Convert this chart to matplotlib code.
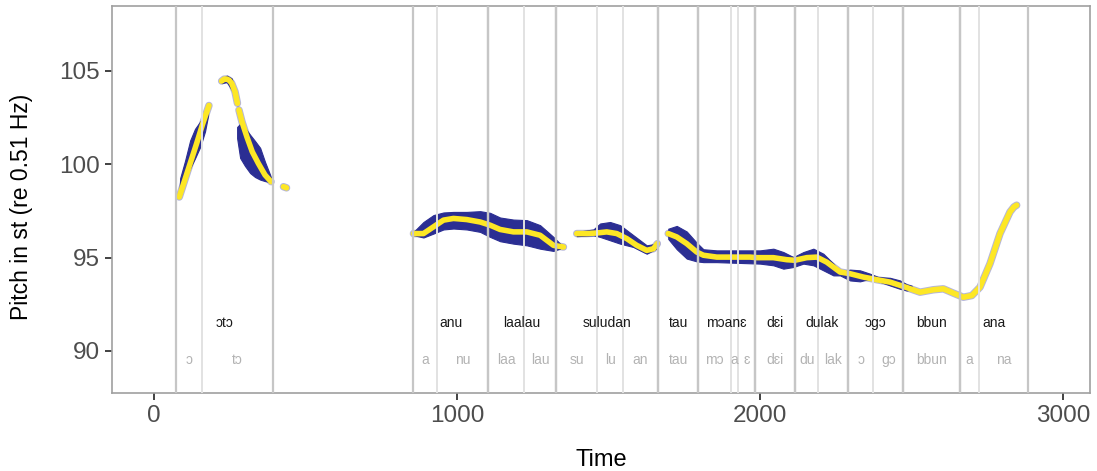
import matplotlib
matplotlib.use("Agg")
import matplotlib.pyplot as plt
import matplotlib.patheffects as pe

plt.rcParams['font.family'] = ['Liberation Sans', 'DejaVu Sans']

# words and syllables (ms)
words = ["ɔtɔ", "anu", "laalau", "suludan", "tau", "mɔanɛ", "dɛi", "dulak", "ɔgɔ", "bbun", "ana"]
word_start = [73, 854, 1103, 1327, 1664, 1796, 1983, 2116, 2291, 2473, 2660]
word_end = [394, 1103, 1327, 1664, 1796, 1983, 2116, 2291, 2473, 2660, 2885]

syllables = ["ɔ", "tɔ", "a", "nu", "laa", "lau", "su", "lu", "an", "tau", "mɔ", "a", "ɛ",
             "dɛi", "du", "lak", "ɔ", "gɔ", "bbun", "a", "na"]
syl_start = [73, 157, 854, 933, 1103, 1221, 1327, 1463, 1547, 1664, 1796, 1903, 1928,
             1983, 2116, 2192, 2291, 2374, 2473, 2660, 2724]
syl_end = [157, 394, 933, 1103, 1221, 1327, 1463, 1547, 1664, 1796, 1903, 1928, 1983,
           2116, 2192, 2291, 2374, 2473, 2660, 2724, 2885]

# mean pitch contours (st)
tA = [83, 100, 120, 140, 160, 181]
pA = [98.25, 99.1, 100.1, 101.1, 102.15, 103.15]
tB = [223, 231, 240, 248, 256, 267, 275]
pB = [104.46, 104.56, 104.57, 104.5, 104.34, 103.89, 103.27]
tC = [280, 290, 306, 324, 344, 366, 386]
pC = [102.91, 102.28, 101.48, 100.67, 100.05, 99.43, 99.07]
tD = [427, 437]
pD = [98.8, 98.74]
tE = [856, 889, 922, 955, 988, 1032, 1076, 1109, 1142, 1186, 1230, 1274, 1318, 1351]
pE = [96.29, 96.29, 96.65, 97.01, 97.1, 97.04, 96.91, 96.74, 96.51, 96.38, 96.38, 96.2, 95.66, 95.57]
tF = [1395, 1428, 1461, 1494, 1527, 1560, 1593, 1626, 1648, 1661]
pF = [96.29, 96.29, 96.32, 96.38, 96.29, 96.02, 95.66, 95.39, 95.48, 95.75]
tG = [1697, 1725, 1758, 1791, 1813, 1857, 1912, 1967, 1989, 2044, 2088, 2115, 2154, 2187,
      2220, 2264, 2297, 2341, 2385, 2429, 2473, 2528, 2572, 2605, 2638, 2671, 2699, 2726,
      2759, 2792, 2825, 2838, 2847]
pG = [96.29, 96.11, 95.75, 95.3, 95.13, 95.03, 95.03, 95.03, 95.0, 95.0, 94.89, 94.86, 95.0,
      95.03, 94.76, 94.23, 94.14, 93.96, 93.82, 93.69, 93.46, 93.15, 93.28, 93.33, 93.1,
      92.88, 92.97, 93.42, 94.68, 96.29, 97.45, 97.72, 97.81]

# variability ribbons (st)
bA_t = [83, 86, 102, 119, 135, 152, 168, 178]
bA_lo = [98.25, 98.35, 99.26, 99.8, 100.32, 100.93, 101.76, 102.6]
bA_hi = [98.3, 99.26, 100.18, 101.28, 101.9, 102.29, 102.57, 102.8]
bB_t = [223, 240, 256, 268]
bB_lo = [104.35, 104.4, 104.0, 103.7]
bB_hi = [104.55, 104.75, 104.6, 103.9]
bC_t = [274, 284, 300, 317, 333, 350, 366, 383, 389]
bC_lo = [101.4, 100.34, 99.91, 99.53, 99.32, 99.18, 99.1, 99.05, 99.05]
bC_hi = [102.0, 102.17, 101.95, 101.58, 101.25, 100.88, 100.13, 99.43, 99.1]
bE_t = [855, 889, 922, 955, 988, 1032, 1076, 1109, 1142, 1186, 1230, 1274, 1318, 1340]
bE_lo = [96.21, 96.08, 96.29, 96.51, 96.56, 96.51, 96.38, 96.11, 95.88, 95.75, 95.66, 95.48, 95.36, 95.48]
bE_hi = [96.36, 96.91, 97.28, 97.42, 97.45, 97.45, 97.49, 97.4, 97.15, 97.04, 97.01, 96.74, 96.11, 95.75]
bF_t = [1395, 1450, 1472, 1505, 1538, 1582, 1626, 1659]
bF_lo = [96.15, 96.2, 96.11, 95.93, 95.75, 95.57, 95.21, 95.5]
bF_hi = [96.38, 96.51, 96.83, 96.91, 96.74, 96.2, 95.66, 95.75]
bG_t = [1697, 1725, 1758, 1791, 1813, 1857, 2000, 2044, 2077, 2110, 2143, 2176, 2209, 2242,
        2264, 2297, 2330, 2363, 2390, 2429, 2462, 2484, 2500]
bG_lo = [96.0, 95.45, 94.95, 94.8, 94.76, 94.76, 94.68, 94.59, 94.41, 94.5, 94.68, 94.59,
         94.32, 94.05, 94.05, 93.78, 93.73, 93.87, 93.74, 93.51, 93.33, 93.24, 93.3]
bG_hi = [96.55, 96.7, 96.4, 95.8, 95.45, 95.39, 95.39, 95.48, 95.3, 95.03, 95.3, 95.48,
         95.21, 94.68, 94.23, 94.36, 94.32, 94.14, 93.96, 93.92, 93.78, 93.57, 93.5]

word_y = 91.5
syl_y = 89.52

navy = "#2b2e93"
yellow = "#fde725"

fig = plt.figure(figsize=(10.97, 4.71), dpi=100)
ax = fig.add_axes([112 / 1097, 1 - 393 / 471, 978 / 1097, 387 / 471])

bands = [(bA_t, bA_lo, bA_hi), (bB_t, bB_lo, bB_hi), (bC_t, bC_lo, bC_hi),
         (bE_t, bE_lo, bE_hi), (bF_t, bF_lo, bF_hi), (bG_t, bG_lo, bG_hi)]
for bt, lo, hi in bands:
    ax.fill_between(bt, lo, hi, color=navy, lw=0.8, edgecolor=navy, zorder=2)

halo = [pe.Stroke(linewidth=5.4, foreground=navy, alpha=0.35), pe.Normal()]
for t, p in [(tA, pA), (tB, pB), (tC, pC), (tD, pD), (tE, pE), (tF, pF), (tG, pG)]:
    ax.plot(t, p, color=yellow, lw=4.0, solid_capstyle="round", solid_joinstyle="round",
            path_effects=halo, zorder=3)

# boundaries
for s in syl_start + syl_end:
    ax.axvline(s, color="#e2e2e2", lw=1.2, zorder=4)
for w in word_start + word_end:
    ax.axvline(w, color="#c6c6c6", lw=1.6, zorder=4)

for w, a, b in zip(words, word_start, word_end):
    ax.text((a + b) / 2, word_y, w, ha="center", va="center", fontsize=10, color="#1a1a1a", zorder=5)
for s, a, b in zip(syllables, syl_start, syl_end):
    ax.text((a + b) / 2, syl_y, s, ha="center", va="center", fontsize=10, color="#b3b3b3", zorder=5)

ax.set_xlim(-139, 3089)
ax.set_ylim(87.75, 108.48)
ax.set_xticks([0, 1000, 2000, 3000])
ax.set_yticks([90, 95, 100, 105])
ax.tick_params(labelsize=17.5, labelcolor="#4d4d4d", color="#333333", length=5, width=1.3)
for sp in ax.spines.values():
    sp.set_color("#a0a0a0")
    sp.set_linewidth(1.2)

ax.set_xlabel("Time", fontsize=17)
ax.set_ylabel("Pitch in st (re 0.51 Hz)", fontsize=16.5)
ax.xaxis.set_label_coords(0.5, -0.145)
ax.yaxis.set_label_coords(-0.081, 0.48)

fig.savefig("out.png", dpi=100)
